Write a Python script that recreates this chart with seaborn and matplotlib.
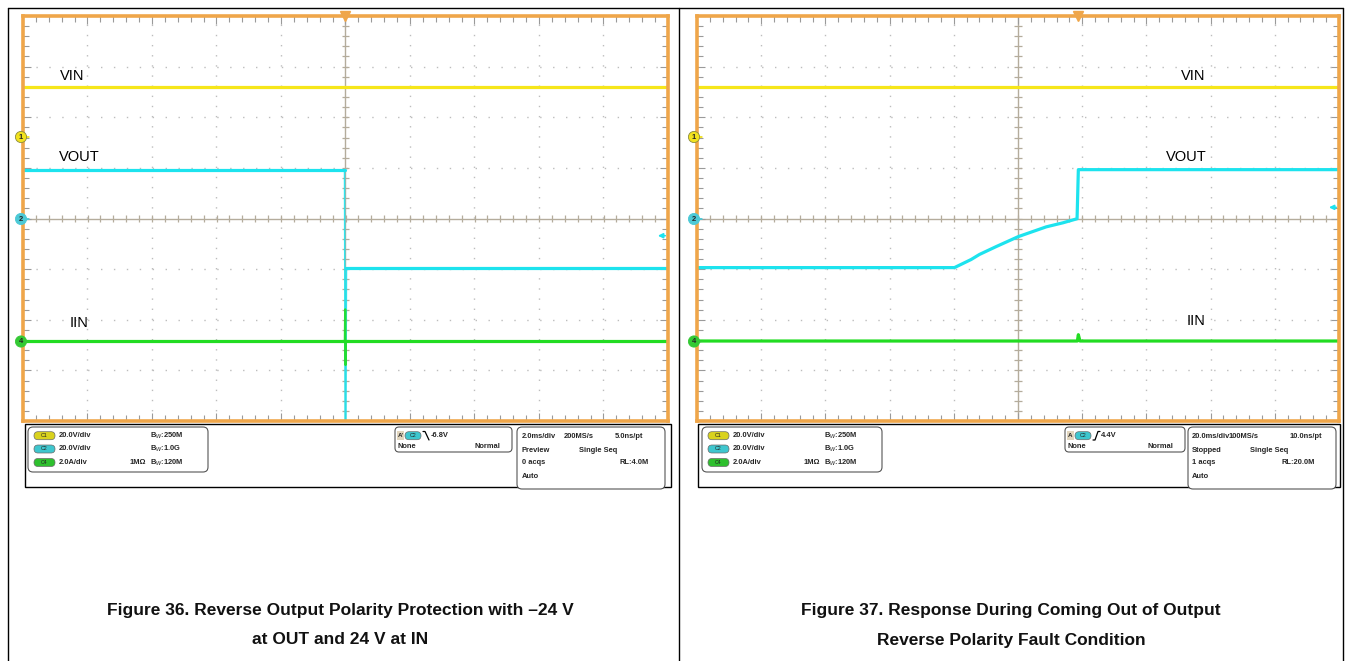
import numpy as np
import pandas as pd
import matplotlib
matplotlib.use("Agg")
import matplotlib.pyplot as plt
from matplotlib.patches import FancyBboxPatch, Rectangle, Circle
import seaborn as sns

# Canvas size in pixels (dpi 100)
W, H = 1351, 661

# Scope channel settings (divisions are relative to screen centre)
VOLTS_PER_DIV = 20.0
AMPS_PER_DIV = 2.0
OFFSET_C1 = 1.62
OFFSET_C2 = 0.0
OFFSET_C4 = -2.42

# Figure 36: 2 ms/div, time in ms; "seg" splits a trace at fast edges
fig36_t_vin = [-10.0, 10.0]
fig36_vin = [19.6, 19.6]
fig36_t_vout = [-10.0, -0.03, 0.03, 10.0]
fig36_vout = [19.1, 19.1, -19.5, -19.5]
fig36_vout_seg = [0, 0, 1, 1]
fig36_t_iin = [-10.0, 10.0]
fig36_iin = [0.0, 0.0]
# fast transients at the trigger point (thin lines)
fig36_t_vout_edge = [-0.03, -0.01, 0.01, 0.03]
fig36_vout_edge = [19.1, -90.0, -90.0, -19.5]
fig36_t_iin_edge = [-0.02, -0.01, 0.0, 0.01]
fig36_iin_edge = [0.0, 1.25, -0.95, 0.0]

# Figure 37: 20 ms/div, time in ms
fig37_t_vin = [-100.0, 100.0]
fig37_vin = [19.6, 19.6]
fig37_t_vout = [-100.0, -19.8, -14.6, -12.0, -6.8, 0.0, 3.6, 8.8, 14.0, 18.4, 18.8, 100.0]
fig37_vout = [-19.4, -19.4, -16.2, -14.2, -11.1, -7.2, -5.6, -3.3, -1.7, -0.1, 19.3, 19.3]
fig37_vout_seg = [0] * 12
fig37_t_iin = [-100.0, 18.5, 18.8, 19.3, 100.0]
fig37_iin = [0.0, 0.0, 0.25, 0.0, 0.0]

captions = {
    "left": ["Figure 36. Reverse Output Polarity Protection with \u201324 V", "at OUT and 24 V at IN"],
    "right": ["Figure 37. Response During Coming Out of Output", "Reverse Polarity Fault Condition"],
}

# Colours
C_VIN = "#F6E61A"
C_VOUT = "#1DE3EE"
C_IIN = "#22DC22"
ORANGE = "#EFA64A"
GRID = "#BDBDBD"
CENTER = "#B4AC9C"
PILL = {"C1": "#D9D21E", "C2": "#3EC6CE", "C4": "#2EC02E"}
PALETTE = {"VIN": C_VIN, "VOUT": C_VOUT, "IIN": C_IIN}

sns.set_style("white")
plt.rcParams["font.family"] = ["Liberation Sans", "DejaVu Sans"]


def px_rect(x0, y0, x1, y1):
    return [x0 / W, 1 - y1 / H, (x1 - x0) / W, (y1 - y0) / H]


def to_frame(traces):
    rows = []
    for name, t, vals, segs, scale, off in traces:
        if segs is None:
            segs = [0] * len(t)
        for ti, v, sg in zip(t, vals, segs):
            rows.append({"t": ti, "div": v / scale + off, "trace": name, "seg": f"{name}{sg}"})
    return pd.DataFrame(rows)


def draw_scope(ax, ms_per_div, traces, edges, trig_t, trig_level):
    half = 5 * ms_per_div

    # dotted graticule
    for k in range(-3, 4):
        if k != 0:
            ax.axhline(k, color=GRID, lw=1.0, ls=(0, (1, 8.3)), zorder=0)
    for k in range(-4, 5):
        if k != 0:
            ax.axvline(k * ms_per_div, color=GRID, lw=1.0, ls=(0, (1, 6.3)), zorder=0)
    ax.axhline(0, color=CENTER, lw=1.0, zorder=0)
    ax.axvline(0, color=CENTER, lw=1.0, zorder=0)
    ax.vlines(np.arange(-half, half + 1e-9, 0.2 * ms_per_div), -0.07, 0.07, color=CENTER, lw=0.9, zorder=0)
    ax.hlines(np.arange(-4, 4.001, 0.2), -0.06 * ms_per_div, 0.06 * ms_per_div, color=CENTER, lw=0.9, zorder=0)

    # thin fast edges, one call per trace so the current spike sits on top
    for edge in edges:
        sns.lineplot(data=to_frame([edge]), x="t", y="div", hue="trace", units="seg",
                     palette=PALETTE, estimator=None, sort=False,
                     linewidth=1.6 if edge[0] == "IIN" else 1.1,
                     legend=False, ax=ax, alpha=0.9)
    sns.lineplot(data=to_frame(traces), x="t", y="div", hue="trace", units="seg",
                 palette=PALETTE, estimator=None, sort=False, linewidth=2.3, legend=False, ax=ax)

    ax.set_xlim(-half, half)
    ax.set_ylim(-4, 4)
    ax.set_xlabel("")
    ax.set_ylabel("")
    ax.set_xticks(np.arange(-half, half + 1e-9, ms_per_div))
    ax.set_xticks(np.arange(-half, half + 1e-9, 0.2 * ms_per_div), minor=True)
    ax.set_yticks(np.arange(-4, 4.01, 1))
    ax.set_yticks(np.arange(-4, 4.01, 0.2), minor=True)
    ax.tick_params(which="both", direction="in", top=True, right=True, bottom=True, left=True,
                   labelbottom=False, labelleft=False, color="#9A9A9A", width=0.8)
    ax.tick_params(which="major", length=6)
    ax.tick_params(which="minor", length=4)
    for s in ax.spines.values():
        s.set_color(ORANGE)
        s.set_linewidth(2.6)

    # trigger position and level markers
    ax.plot([trig_t], [4.0], marker="v", color=ORANGE, ms=7, clip_on=False, zorder=5)
    ax.annotate("", xy=(half - 0.2 * ms_per_div, trig_level / VOLTS_PER_DIV + OFFSET_C2),
                xytext=(half, trig_level / VOLTS_PER_DIV + OFFSET_C2),
                arrowprops=dict(arrowstyle="-|>", color=C_VOUT, lw=1.2, mutation_scale=7))


fig = plt.figure(figsize=(W / 100, H / 100), dpi=100)

ax_l = fig.add_axes(px_rect(23, 16, 668, 421))
draw_scope(ax_l, 2.0, [
    ("VIN", fig36_t_vin, fig36_vin, None, VOLTS_PER_DIV, OFFSET_C1),
    ("VOUT", fig36_t_vout, fig36_vout, fig36_vout_seg, VOLTS_PER_DIV, OFFSET_C2),
    ("IIN", fig36_t_iin, fig36_iin, None, AMPS_PER_DIV, OFFSET_C4),
], [
    ("VOUT", fig36_t_vout_edge, fig36_vout_edge, None, VOLTS_PER_DIV, OFFSET_C2),
    ("IIN", fig36_t_iin_edge, fig36_iin_edge, None, AMPS_PER_DIV, OFFSET_C4),
], trig_t=0.0, trig_level=-6.8)

ax_r = fig.add_axes(px_rect(697, 16, 1339, 421))
draw_scope(ax_r, 20.0, [
    ("VIN", fig37_t_vin, fig37_vin, None, VOLTS_PER_DIV, OFFSET_C1),
    ("VOUT", fig37_t_vout, fig37_vout, fig37_vout_seg, VOLTS_PER_DIV, OFFSET_C2),
    ("IIN", fig37_t_iin, fig37_iin, None, AMPS_PER_DIV, OFFSET_C4),
], [], trig_t=18.7, trig_level=4.4)

# overlay in pixel coordinates for page furniture
ov = fig.add_axes([0, 0, 1, 1], zorder=10)
ov.set_xlim(0, W)
ov.set_ylim(H, 0)
ov.axis("off")
ov.patch.set_alpha(0)

for x in (8, 679, 1343):
    ov.plot([x, x], [8, H], color="black", lw=1.0)
ov.plot([8, 1343], [8, 8], color="black", lw=1.0)

FS = 5.4


def channel_markers(x):
    for label, y, col in (("1", 137, "#F2E21E"), ("2", 219, "#4CC9D6"), ("4", 341.5, "#34C934")):
        ov.add_patch(Circle((x, y), 5.6, fc=col, ec="#8A8A40" if label == "1" else col, lw=0.6, zorder=12))
        ov.text(x, y + 0.3, label, ha="center", va="center", fontsize=5.5, weight="bold", zorder=13)
        ov.annotate("", xy=(x + 11, y), xytext=(x + 5, y),
                    arrowprops=dict(arrowstyle="-|>", color=col, lw=0.8, mutation_scale=4))


def pill(x, y, label, w=21, h=8):
    ov.add_patch(FancyBboxPatch((x, y - h / 2), w, h, boxstyle="round,pad=0,rounding_size=4",
                                fc=PILL[label], ec="#6A6A6A", lw=0.5))
    ov.text(x + w / 2, y, label, ha="center", va="center", fontsize=3.8, color="#222222")


def info_panel(x0, x1, ch_x, trig_x, tb_x, trig, timebase):
    ov.add_patch(Rectangle((x0, 424), x1 - x0, 63, fc="white", ec="black", lw=1.0))
    # channel box
    ov.add_patch(FancyBboxPatch((ch_x, 427), 180, 45, boxstyle="round,pad=0,rounding_size=5",
                                fc="white", ec="#555555", lw=0.8))
    for (lab, per_div, bw), y in zip((("C1", "20.0V/div", r"B$_{W}$:250M"),
                                      ("C2", "20.0V/div", r"B$_{W}$:1.0G"),
                                      ("C4", "2.0A/div", r"B$_{W}$:120M")), (435.7, 449, 462.5)):
        pill(ch_x + 6, y, lab)
        ov.text(ch_x + 31, y, per_div, fontsize=FS, weight="bold", va="center")
        ov.text(ch_x + 122, y, bw, fontsize=FS, weight="bold", va="center")
    ov.text(ch_x + 102, 462.5, "1M\u03a9", fontsize=FS, weight="bold", va="center")
    # trigger box
    ov.add_patch(FancyBboxPatch((trig_x, 427), 120 if trig["rising"] else 117, 25,
                                boxstyle="round,pad=0,rounding_size=4", fc="white", ec="#555555", lw=0.8))
    ov.add_patch(Rectangle((trig_x + 2, 431), 7, 9, fc="#E2D6BE", ec="none"))
    ov.text(trig_x + 5.5, 435.7, trig["src"], fontsize=4.5, weight="bold", ha="center", va="center")
    pill(trig_x + 10, 435.7, "C2", w=16)
    sx = trig_x + 28
    if trig["rising"]:
        ov.plot([sx, sx + 2, sx + 5, sx + 7], [440, 440, 431.5, 431.5], color="black", lw=0.9)
    else:
        ov.plot([sx, sx + 2, sx + 6], [431.5, 431.5, 440], color="black", lw=0.9)
    ov.text(sx + 8, 435.7, trig["level"], fontsize=FS, weight="bold", va="center")
    ov.text(trig_x + 3, 447, "None", fontsize=FS, weight="bold", va="center")
    ov.text(trig_x + trig["normal_end"], 447, "Normal", fontsize=FS, weight="bold", va="center", ha="right")
    # timebase box
    ov.add_patch(FancyBboxPatch((tb_x, 427), 148, 62, boxstyle="round,pad=0,rounding_size=5",
                                fc="white", ec="#555555", lw=0.8))
    for txt, dx, y in timebase:
        ov.text(tb_x + dx, y, txt, fontsize=FS, weight="bold", va="center")


channel_markers(21)
channel_markers(694)

info_panel(25, 671, 28, 395, 517,
           {"src": "A'", "level": "-6.8V", "rising": False, "normal_end": 105},
           [("2.0ms/div", 5, 436), ("200MS/s", 47, 436), ("5.0ns/pt", 98, 436),
            ("Preview", 5, 450), ("Single Seq", 62, 450),
            ("0 acqs", 5, 463), ("RL:4.0M", 102, 463), ("Auto", 5, 476)])
info_panel(698, 1340, 702, 1065, 1188,
           {"src": "A", "level": "4.4V", "rising": True, "normal_end": 108},
           [("20.0ms/div", 4, 436), ("100MS/s", 41, 436), ("10.0ns/pt", 102, 436),
            ("Stopped", 4, 450), ("Single Seq", 62, 450),
            ("1 acqs", 4, 463), ("RL:20.0M", 94, 463), ("Auto", 4, 476)])

# trace labels
for x, y, s in ((60, 76, "VIN"), (59, 157, "VOUT"), (70, 323, "IIN"),
                (1181, 76, "VIN"), (1166, 157, "VOUT"), (1187, 321, "IIN")):
    ov.text(x, y, s, fontsize=10.5, va="center", ha="left", color="black")

# captions
for cx, key in ((340, "left"), (1011, "right")):
    for y, line in zip((610, 640), captions[key]):
        ov.text(cx, y, line, fontsize=12.5, weight="bold", ha="center", va="center", color="#111111")

fig.savefig("out.png", dpi=100)
